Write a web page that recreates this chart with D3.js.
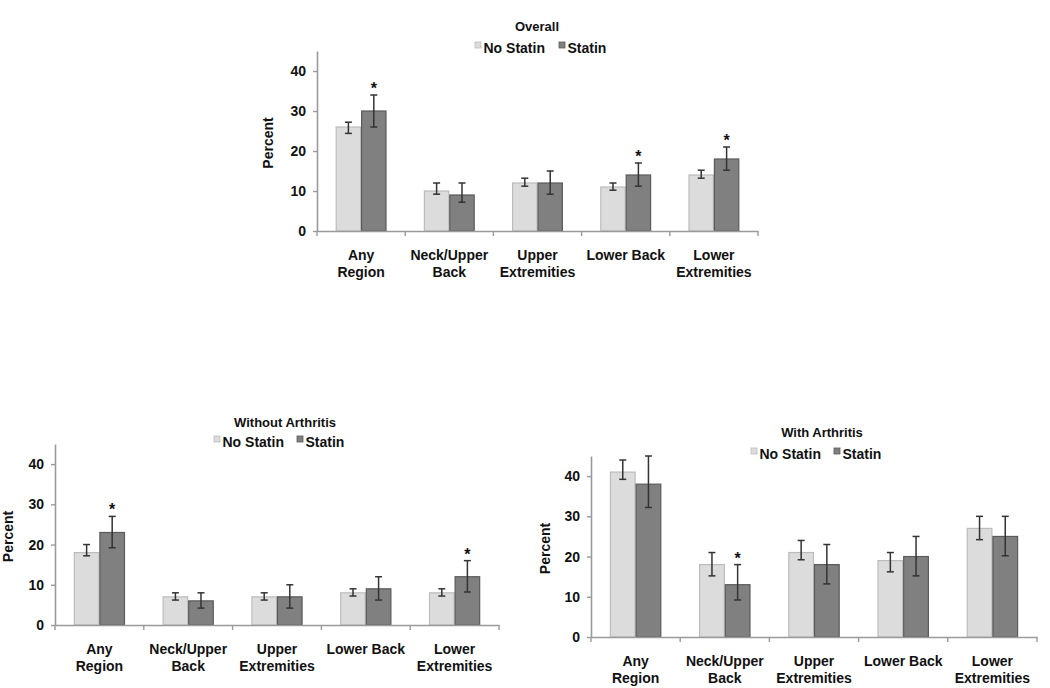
<!DOCTYPE html>
<html>
<head>
<meta charset="utf-8">
<script src="https://cdn.jsdelivr.net/npm/d3@7"></script>
<style>
  html, body { margin: 0; padding: 0; background: #fff; }
  svg { display: block; }
  text { font-family: "Liberation Sans", Arial, Helvetica, sans-serif; font-weight: bold; fill: #111; }
</style>
</head>
<body>
<svg id="chart" width="1050" height="688"></svg>
<script>
// ---------- data ----------
const categories = ["Any Region", "Neck/Upper Back", "Upper Extremities", "Lower Back", "Lower Extremities"];
const categoryLines = [["Any", "Region"], ["Neck/Upper", "Back"], ["Upper", "Extremities"], ["Lower Back"], ["Lower", "Extremities"]];
const seriesNames = ["No Statin", "Statin"];
const yTicks = [0, 10, 20, 30, 40];
const yMax = 45;

const panelTitles = ["Overall", "Without Arthritis", "With Arthritis"];

// Overall
const overallNoStatin    = [26, 10, 12, 11, 14];
const overallNoStatinLo  = [24.4, 9.2, 11.2, 10.2, 13.2];
const overallNoStatinHi  = [27.2, 12, 13.2, 12, 15.2];
const overallStatin      = [30, 9, 12, 14, 18];
const overallStatinLo    = [26, 7.2, 9.2, 11.2, 15.2];
const overallStatinHi    = [34, 12, 15, 17, 21];
const overallSig         = [true, false, false, true, true];

// Without arthritis
const withoutNoStatin    = [18, 7, 7, 8, 8];
const withoutNoStatinLo  = [17.2, 6.2, 6.2, 7.2, 7.2];
const withoutNoStatinHi  = [20, 8, 8, 9, 9];
const withoutStatin      = [23, 6, 7, 9, 12];
const withoutStatinLo    = [19.2, 4.2, 4.2, 6.2, 8.2];
const withoutStatinHi    = [27, 8, 10, 12, 16];
const withoutSig         = [true, false, false, false, true];

// With arthritis
const withNoStatin       = [41, 18, 21, 19, 27];
const withNoStatinLo     = [39.2, 15.2, 19.2, 16.2, 24.2];
const withNoStatinHi     = [44, 21, 24, 21, 30];
const withStatin         = [38, 13, 18, 20, 25];
const withStatinLo       = [32.2, 9.2, 13.2, 15.2, 20.2];
const withStatinHi       = [45, 18, 23, 25, 30];
const withSig            = [false, true, false, false, false];

// ---------- layout (pixels) ----------
const panels = [
  { title: panelTitles[0], x0: 317, x1: 758, y0: 231, yTop: 51, titleX: 537, titleY: 26, legendY: 48, legendX: [475, 559], percentX: 268,
    ns: [overallNoStatin, overallNoStatinLo, overallNoStatinHi], st: [overallStatin, overallStatinLo, overallStatinHi], sig: overallSig },
  { title: panelTitles[1], x0: 55, x1: 499, y0: 625, yTop: 444, titleX: 285, titleY: 422, legendY: 442, legendX: [214, 297], percentX: 8,
    ns: [withoutNoStatin, withoutNoStatinLo, withoutNoStatinHi], st: [withoutStatin, withoutStatinLo, withoutStatinHi], sig: withoutSig },
  { title: panelTitles[2], x0: 591, x1: 1037, y0: 637, yTop: 456, titleX: 822, titleY: 432, legendY: 454, legendX: [751, 834], percentX: 545,
    ns: [withNoStatin, withNoStatinLo, withNoStatinHi], st: [withStatin, withStatinLo, withStatinHi], sig: withSig }
];

const fills = ["#dcdcdc", "#808080"];
const strokes = ["#bcbcbc", "#5a5a5a"];
const axisColor = "#9a9a9a";
const errColor = "#333";

const svg = d3.select("#chart");

panels.forEach(p => {
  const g = svg.append("g");
  const x = d3.scaleBand().domain(categories).range([p.x0, p.x1]);
  const y = d3.scaleLinear().domain([0, yMax]).range([p.y0, p.yTop]);
  const barW = x.bandwidth() * 0.288;
  const inner = d3.scaleBand().domain(seriesNames).range([-barW, barW]);

  const rows = categories.map((c, i) => ({
    cat: c, i,
    vals: [
      { s: seriesNames[0], v: p.ns[0][i], lo: p.ns[1][i], hi: p.ns[2][i], k: 0, sig: false },
      { s: seriesNames[1], v: p.st[0][i], lo: p.st[1][i], hi: p.st[2][i], k: 1, sig: p.sig[i] }
    ]
  }));

  // bars
  const grp = g.selectAll("g.cat").data(rows).join("g")
    .attr("transform", d => `translate(${x(d.cat) + x.bandwidth() / 2},0)`);

  grp.selectAll("rect").data(d => d.vals).join("rect")
    .attr("x", d => inner(d.s) + 0.5)
    .attr("y", d => y(d.v))
    .attr("width", inner.bandwidth() - 1)
    .attr("height", d => y(0) - y(d.v))
    .attr("fill", d => fills[d.k])
    .attr("stroke", d => strokes[d.k])
    .attr("stroke-width", 1.2);

  // error bars
  const eb = grp.selectAll("g.err").data(d => d.vals).join("g")
    .attr("transform", d => `translate(${inner(d.s) + inner.bandwidth() / 2},0)`)
    .attr("stroke", errColor).attr("stroke-width", 1.5);
  eb.append("line").attr("x1", 0).attr("x2", 0).attr("y1", d => y(d.lo)).attr("y2", d => y(d.hi));
  eb.append("line").attr("x1", -3.5).attr("x2", 3.5).attr("y1", d => y(d.lo)).attr("y2", d => y(d.lo));
  eb.append("line").attr("x1", -3.5).attr("x2", 3.5).attr("y1", d => y(d.hi)).attr("y2", d => y(d.hi));

  // significance asterisks
  grp.selectAll("text.sig").data(d => d.vals.filter(v => v.sig)).join("text")
    .attr("class", "sig")
    .attr("x", d => inner(d.s) + inner.bandwidth() / 2)
    .attr("y", d => y(d.hi) - 1)
    .attr("text-anchor", "middle")
    .style("font-size", "16px")
    .text("*");

  // y axis
  const yAxis = g.append("g").attr("transform", `translate(${p.x0},0)`)
    .call(d3.axisLeft(y).tickValues(yTicks).tickSize(4).tickSizeOuter(0).tickPadding(7).tickFormat(d3.format("d")));
  yAxis.select(".domain").attr("stroke", axisColor).attr("stroke-width", 1.6);
  yAxis.selectAll(".tick line").attr("stroke", axisColor).attr("stroke-width", 1.4);
  yAxis.selectAll(".tick text").style("font-size", "14px").style("font-family", "Liberation Sans, Arial, sans-serif").style("font-weight", "bold").attr("fill", "#111");

  // x axis
  const xAxis = g.append("g").attr("transform", `translate(0,${p.y0})`)
    .call(d3.axisBottom(x).tickSize(0).tickSizeOuter(0).tickPadding(0));
  xAxis.select(".domain").attr("stroke", axisColor).attr("stroke-width", 1.6);
  xAxis.selectAll(".tick text").each(function(d) {
    const t = d3.select(this);
    const lines = categoryLines[categories.indexOf(d)];
    t.text(null).attr("y", 0).attr("dy", null)
      .style("font-size", "14px").style("font-family", "Liberation Sans, Arial, sans-serif").style("font-weight", "bold").attr("fill", "#111");
    lines.forEach((ln, j) => {
      t.append("tspan").attr("x", 0).attr("y", 29 + j * 17).text(ln);
    });
  });
  // boundary ticks on x axis
  const bounds = categories.map(c => x(c)).concat([p.x1]);
  g.append("g").selectAll("line").data(bounds).join("line")
    .attr("x1", d => d).attr("x2", d => d)
    .attr("y1", p.y0).attr("y2", p.y0 + 5)
    .attr("stroke", axisColor).attr("stroke-width", 1.4);

  // y label
  g.append("text")
    .attr("transform", `translate(${p.percentX + 5},${(p.y0 + p.yTop) / 2 + 2}) rotate(-90)`)
    .attr("text-anchor", "middle")
    .style("font-size", "14px")
    .text("Percent");

  // title
  g.append("text")
    .attr("x", p.titleX).attr("y", p.titleY + 4.5)
    .attr("text-anchor", "middle")
    .style("font-size", "13px")
    .text(p.title);

  // legend
  const lg = g.append("g");
  seriesNames.forEach((s, k) => {
    lg.append("rect")
      .attr("x", p.legendX[k]).attr("y", p.legendY - 6)
      .attr("width", 6).attr("height", 6)
      .attr("fill", fills[k]).attr("stroke", strokes[k]).attr("stroke-width", 0.8);
    lg.append("text")
      .attr("x", p.legendX[k] + 8.5).attr("y", p.legendY + 5)
      .style("font-size", "14px")
      .text(s);
  });
});
</script>
</body>
</html>
